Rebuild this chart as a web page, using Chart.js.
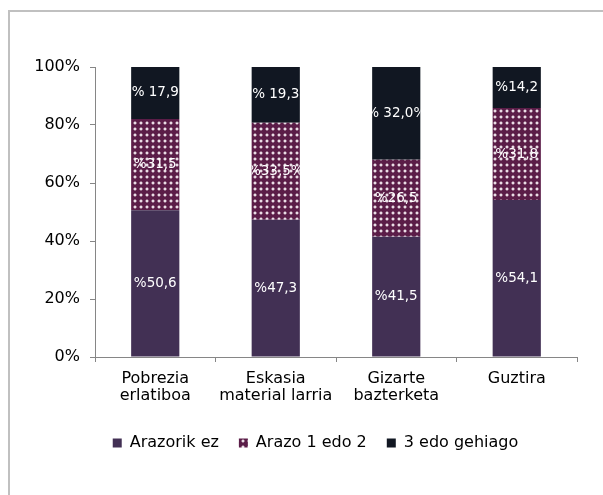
<!DOCTYPE html>
<html>
<head>
<meta charset="utf-8">
<script src="https://cdn.jsdelivr.net/npm/chart.js@4"></script>
<style>
    body { margin: 0; background: #ffffff; }
    #marco {
        position: absolute;
        left: 8px;
        top: 10px;
        width: 640px;
        height: 540px;
        border: 2px solid #c0c0c0;
    }
    #caja { position: absolute; left: 0; top: 0; width: 603px; height: 495px; }
</style>
</head>
<body>
<div id="marco"></div>
<div id="caja"><canvas id="grafikoa"></canvas></div>
<script>
// datuak
const kategoriak = [["Pobrezia", "erlatiboa"], ["Eskasia", "material larria"], ["Gizarte", "bazterketa"], "Guztira"];
const serieIzenak = ["Arazorik ez", "Arazo 1 edo 2", "3 edo gehiago"];
const arazorikEz = [50.6, 47.3, 41.5, 54.1];
const arazo1edo2 = [31.5, 33.5, 26.5, 31.8];
const hiruEdoGehiago = [17.9, 19.3, 32.0, 14.2];
const etiketakEz = ["%50,6", "%47,3", "%41,5", "%54,1"];
const etiketak12 = ["%31,5", "%33,5%", "%26,5", "%31,8"];
const etiketak3 = ["% 17,9", "% 19,3", "% 32,0%", "%14,2"];
const yTicks = [0, 20, 40, 60, 80, 100];

const letra = "'DejaVu Sans', Verdana, sans-serif";

// puntudun patroia
function puntuPatroia() {
    const c = document.createElement('canvas');
    c.width = 6;
    c.height = 6;
    const ctx = c.getContext('2d');
    ctx.fillStyle = '#5b1d48';
    ctx.fillRect(0, 0, 6, 6);
    ctx.fillStyle = '#8e6380';
    ctx.fillRect(2, 1, 2, 4);
    ctx.fillRect(1, 2, 4, 2);
    ctx.fillStyle = '#eadde6';
    ctx.fillRect(2, 2, 2, 2);
    return document.getElementById('grafikoa').getContext('2d').createPattern(c, 'repeat');
}

const patroia = puntuPatroia();

const etiketaPlugin = {
    id: 'etiketak',
    afterDatasetsDraw(chart) {
        const ctx = chart.ctx;
        const guztiak = [etiketakEz, etiketak12, etiketak3];
        chart.data.datasets.forEach((ds, i) => {
            const meta = chart.getDatasetMeta(i);
            meta.data.forEach((bar, j) => {
                const p = bar.getProps(['x', 'y', 'base', 'width'], true);
                const ezk = p.x - p.width / 2;
                ctx.save();
                ctx.beginPath();
                ctx.rect(ezk, Math.min(p.y, p.base), p.width, Math.abs(p.base - p.y));
                ctx.clip();
                ctx.fillStyle = '#ffffff';
                ctx.font = '13.5px ' + letra;
                ctx.textAlign = 'center';
                ctx.textBaseline = 'middle';
                ctx.fillText(guztiak[i][j], p.x, (p.y + p.base) / 2);
                ctx.restore();
            });
        });
    }
};

// legenda pixka bat eskuinera, erreferentzian bezala
const legendaPlugin = {
    id: 'legendaMugitu',
    afterLayout(chart) {
        chart.legend.left = 55;
        chart.legend.right = 576;
    }
};

const config_grafikoa = {
    type: 'bar',
    data: {
        labels: kategoriak,
        datasets: [
            { label: serieIzenak[0], data: arazorikEz, backgroundColor: '#423054' },
            { label: serieIzenak[1], data: arazo1edo2, backgroundColor: patroia },
            { label: serieIzenak[2], data: hiruEdoGehiago, backgroundColor: '#111722' }
        ]
    },
    options: {
        responsive: true,
        maintainAspectRatio: false,
        animation: false,
        devicePixelRatio: 1,
        datasets: {
            bar: { categoryPercentage: 1, barPercentage: 0.4 }
        },
        layout: {
            padding: { left: 0, top: 67, right: 26, bottom: 34 }
        },
        scales: {
            x: {
                stacked: true,
                grid: {
                    display: true,
                    drawOnChartArea: false,
                    drawTicks: true,
                    tickLength: 5,
                    color: '#868686',
                    offset: true
                },
                border: { display: true, color: '#868686', width: 1 },
                ticks: {
                    color: '#000000',
                    padding: 8,
                    maxRotation: 0,
                    font: { size: 16, family: letra, lineHeight: '17px' }
                },
                afterFit(scale) { scale.height = 58; }
            },
            y: {
                stacked: true,
                min: 0,
                max: 100,
                afterBuildTicks(scale) {
                    scale.ticks = yTicks.map(v => ({ value: v }));
                },
                grid: {
                    display: true,
                    drawOnChartArea: false,
                    drawTicks: true,
                    tickLength: 5,
                    color: '#868686'
                },
                border: { display: true, color: '#868686', width: 1 },
                ticks: {
                    color: '#000000',
                    padding: 10,
                    font: { size: 16, family: letra },
                    callback: v => v + '%'
                },
                afterFit(scale) { scale.width = 95; }
            }
        },
        plugins: {
            tooltip: { enabled: false },
            legend: {
                display: true,
                position: 'bottom',
                labels: {
                    boxWidth: 9,
                    boxHeight: 9,
                    padding: 20,
                    color: '#000000',
                    font: { size: 16, family: letra }
                }
            }
        }
    },
    plugins: [etiketaPlugin, legendaPlugin]
};

const grafikoa = new Chart(document.getElementById('grafikoa'), config_grafikoa);
</script>
</body>
</html>
